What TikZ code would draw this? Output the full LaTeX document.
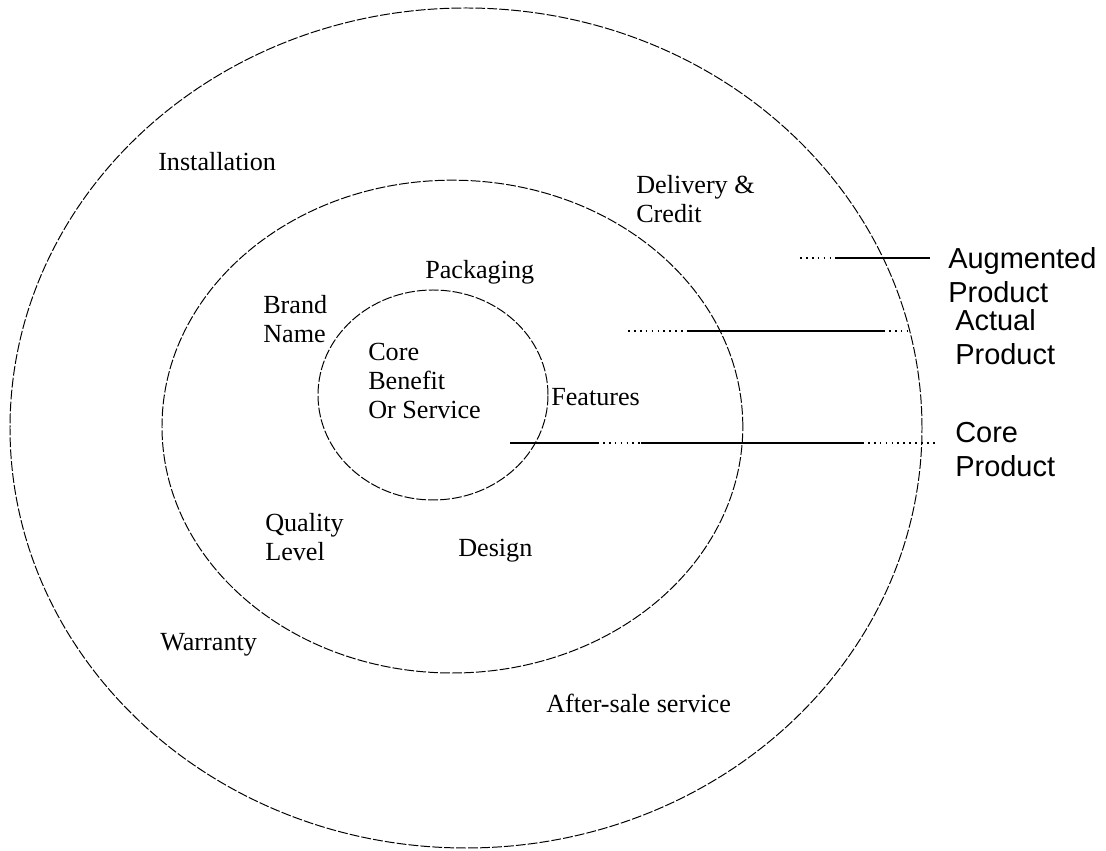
\documentclass[tikz,border=0pt]{standalone}
\usepackage{fontspec}
\setmainfont{Liberation Serif}
\newfontfamily\labelfont{Liberation Sans}
\usetikzlibrary{shapes.geometric}

\begin{document}
\begin{tikzpicture}[
    ring/.style={draw, ellipse, inner sep=0pt, line width=0.7pt, dash pattern=on 7pt off 1.5pt},
    item/.style={anchor=west, align=left, inner sep=0pt, font=\fontsize{18.6}{20.6}\selectfont},
    level/.style={anchor=west, align=left, inner sep=0pt, font=\labelfont\fontsize{20.6}{24.2}\selectfont},
    dots/.style={line width=0.9pt, dash pattern=on 1.2pt off 3pt},
    solidline/.style={line width=0.9pt}
]
    \useasboundingbox (0,0) rectangle (27.65,21.275);

    \node[ring, minimum width=22.8cm, minimum height=21cm] (augring) at (11.65,10.575) {};
    \node[ring, minimum width=14.52cm, minimum height=12.32cm] (actring) at (11.31,10.61) {};
    \node[ring, minimum width=5.75cm, minimum height=5.25cm] (corering) at (10.825,11.4) {};

    \node[item] (inst) at (3.95,17.225) {Installation};
    \node[item] (deliv) at (15.9,16.3) {Delivery \&\\Credit};
    \node[item] (pack) at (10.625,14.475) {Packaging};
    \node[item] (brand) at (6.575,13.29) {Brand\\Name};
    \node[item] (benefit) at (9.2,11.75) {Core\\Benefit\\Or Service};
    \node[item] (feat) at (13.775,11.35) {Features};
    \node[item] (quality) at (6.625,7.86) {Quality\\Level};
    \node[item] (design) at (11.45,7.5) {Design};
    \node[item] (warr) at (4.0,5.15) {Warranty};
    \node[item] (aftersale) at (13.65,3.7) {After-sale service};

    \node[level] (auglbl) at (23.7,14.4) {Augmented\\Product};
    \node[level] (actlbl) at (23.875,12.84) {Actual\\Product};
    \node[level] (corelbl) at (23.875,10.04) {Core\\Product};

    \coordinate (aug1) at (20,14.825);
    \coordinate (aug2) at (20.875,14.825);
    \coordinate (aug3) at (23.25,14.825);
    \coordinate (act1) at (15.7,13.0);
    \coordinate (act2) at (17.225,13.0);
    \coordinate (act3) at (22.075,13.0);
    \coordinate (act4) at (22.7,13.0);
    \coordinate (core1) at (12.75,10.2);
    \coordinate (core2) at (14.925,10.2);
    \coordinate (core3) at (16.025,10.2);
    \coordinate (core4) at (21.55,10.2);
    \coordinate (core5) at (23.375,10.2);

    \draw[dots] (aug1) -- (aug2);
    \draw[solidline] (aug2) -- (aug3);
    \draw[dots] (act1) -- (act2);
    \draw[solidline] (act2) -- (act3);
    \draw[dots] (act3) -- (act4);
    \draw[solidline] (core1) -- (core2);
    \draw[dots] (core2) -- (core3);
    \draw[solidline] (core3) -- (core4);
    \draw[dots] (core4) -- (core5);
\end{tikzpicture}
\end{document}
